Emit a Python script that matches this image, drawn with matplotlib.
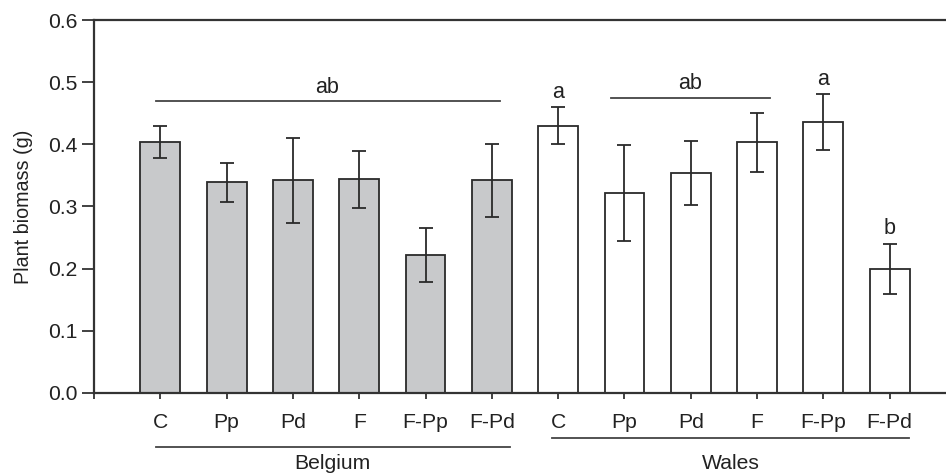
import matplotlib
matplotlib.use("Agg")
import matplotlib.pyplot as plt
import matplotlib.transforms as mtransforms

plt.rcParams['font.family'] = ['Liberation Sans', 'DejaVu Sans']

treatments = ["C", "Pp", "Pd", "F", "F-Pp", "F-Pd"]
belgium_mean = [0.404, 0.339, 0.342, 0.344, 0.222, 0.342]
belgium_err = [0.026, 0.031, 0.068, 0.046, 0.044, 0.059]
wales_mean = [0.430, 0.322, 0.354, 0.403, 0.436, 0.200]
wales_err = [0.030, 0.077, 0.052, 0.047, 0.045, 0.040]
regions = ["Belgium", "Wales"]

# significance letters: (text, x, baseline y)
sig_text = ["ab", "a", "ab", "a", "b"]
sig_x = [3.52, 7.0, 8.99, 11.0, 12.0]
sig_y = [0.483, 0.4745, 0.4885, 0.4955, 0.255]
# horizontal grouping lines above bars: (x0, x1, y)
sig_lines = [(0.93, 6.13, 0.469), (7.79, 10.2, 0.4745)]

fig = plt.figure(figsize=(9.46, 4.74), dpi=100)
ax = fig.add_axes([0.0994, 0.1709, 0.9006, 0.7869])

edge = "#2a2a2a"
x_b = list(range(1, 7))
x_w = list(range(7, 13))
ax.bar(x_b, belgium_mean, width=0.6, color="#c8c9cb", edgecolor=edge, linewidth=1.3, zorder=2)
ax.bar(x_w, wales_mean, width=0.6, color="white", edgecolor=edge, linewidth=1.3, zorder=2)
ax.errorbar(x_b, belgium_mean, yerr=belgium_err, fmt="none", ecolor=edge, elinewidth=1.3,
            capsize=5, capthick=1.3, zorder=3)
ax.errorbar(x_w, wales_mean, yerr=wales_err, fmt="none", ecolor=edge, elinewidth=1.3,
            capsize=5, capthick=1.3, zorder=3)

fs = 15.2
for t, x, y in zip(sig_text, sig_x, sig_y):
    ax.text(x, y, t, ha="center", va="baseline", fontsize=15.5, color="#222222")
for x0, x1, y in sig_lines:
    ax.plot([x0, x1], [y, y], color="#444444", linewidth=1.3)

ax.set_xlim(0, 12.85)
ax.set_ylim(0, 0.6)
ax.set_yticks([0.0, 0.1, 0.2, 0.3, 0.4, 0.5, 0.6])
ax.set_yticklabels(["0.0", "0.1", "0.2", "0.3", "0.4", "0.5", "0.6"])
ax.set_xticks([0] + x_b + x_w)
ax.set_xticklabels([""] + treatments + treatments)
ax.tick_params(axis="y", direction="out", length=9, width=1.3, labelsize=fs, colors="#333333",
               labelcolor="#222222", pad=3)
ax.tick_params(axis="x", direction="out", length=4.5, width=1.3, labelsize=fs, colors="#333333",
               labelcolor="#222222", pad=10)
ax.set_ylabel("Plant biomass (g)", fontsize=14.2, color="#222222", labelpad=11)

for s in ["left", "bottom", "top"]:
    ax.spines[s].set_linewidth(1.6)
    ax.spines[s].set_color("#333333")
ax.spines["right"].set_visible(False)

trans = mtransforms.blended_transform_factory(ax.transData, ax.transAxes)
ax.plot([0.93, 6.27], [-0.144, -0.144], transform=trans, clip_on=False, color="#444444", linewidth=1.3)
ax.plot([6.91, 12.29], [-0.120, -0.120], transform=trans, clip_on=False, color="#444444", linewidth=1.3)
ax.text(3.6, -0.19, regions[0], transform=trans, ha="center", va="center", fontsize=fs, color="#222222")
ax.text(9.6, -0.19, regions[1], transform=trans, ha="center", va="center", fontsize=fs, color="#222222")

fig.savefig("out.png", dpi=100)
